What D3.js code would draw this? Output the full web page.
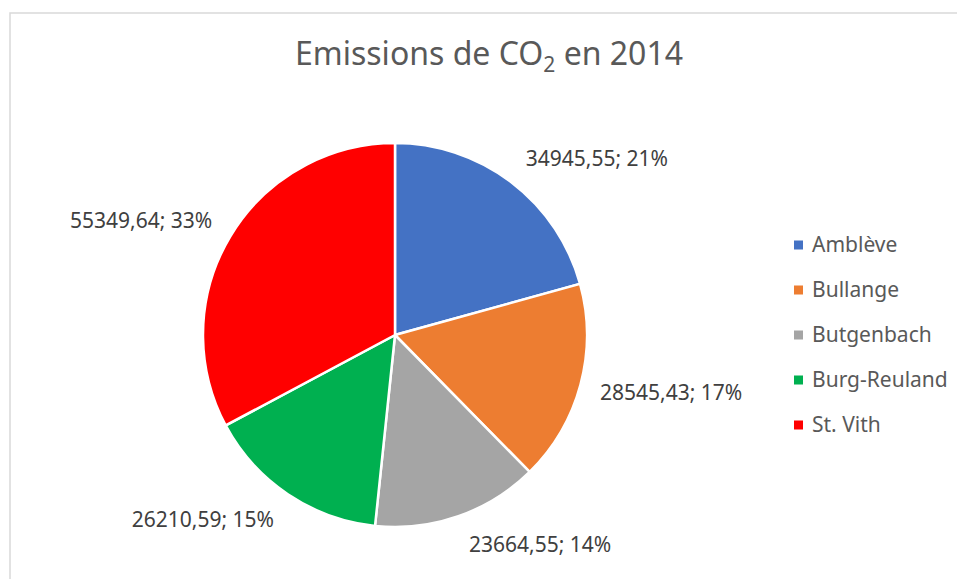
<!doctype html>
<html>
<head>
<meta charset="utf-8">
<title>Emissions de CO2 en 2014</title>
<script src="https://d3js.org/d3.v7.min.js"></script>
<style>
  body { margin: 0; background: #fff; }
  svg { display: block; font-family: "Noto Sans", sans-serif; }
</style>
</head>
<body>
<div id="chart"></div>
<script>
var communes = ["Amblève", "Bullange", "Butgenbach", "Burg-Reuland", "St. Vith"];
var emissions = [34945.55, 28545.43, 23664.55, 26210.59, 55349.64];
var percents = [21, 17, 14, 15, 33];   // as printed on the chart
var colours = ["#4472C4", "#ED7D31", "#A5A5A5", "#00B050", "#FF0000"];

var width = 957, height = 579;
var cx = 395, cy = 335, r = 192;

var svg = d3.select("#chart").append("svg")
    .attr("width", width)
    .attr("height", height);

// chart frame
svg.append("rect")
    .attr("x", 10).attr("y", 13)
    .attr("width", 960).attr("height", 600)
    .attr("fill", "none")
    .attr("stroke", "#d9d9d9")
    .attr("stroke-width", 1.5);

// title with subscript 2
var title = svg.append("text")
    .attr("x", 489).attr("y", 65)
    .attr("text-anchor", "middle")
    .attr("fill", "#595959")
    .style("font-size", "32px");
title.append("tspan").text("Emissions de CO");
title.append("tspan").attr("dy", 7).style("font-size", "21px").text("2");
title.append("tspan").attr("dy", -7).text(" en 2014");

var data = communes.map(function(c, i) {
  return {name: c, value: emissions[i], pct: percents[i], colour: colours[i]};
});

var pie = d3.pie().value(function(d) { return d.value; }).sort(null);
var arc = d3.arc().innerRadius(0).outerRadius(r);
var arcs = pie(data);

var g = svg.append("g").attr("transform", "translate(" + cx + "," + cy + ")");

g.selectAll("path")
  .data(arcs)
  .enter()
  .append("path")
    .attr("d", arc)
    .attr("fill", function(d) { return d.data.colour; })
    .attr("stroke", "#fff")
    .attr("stroke-width", 2.5);

// data labels outside the pie
var fmt = function(v) { return d3.format(".2f")(v).replace(".", ","); };
var mid = function(d) { return (d.startAngle + d.endAngle) / 2; };
g.selectAll("text.lbl")
  .data(arcs)
  .enter()
  .append("text")
    .attr("class", "lbl")
    .attr("x", function(d) {
      var a = mid(d);
      return (r + 14) * Math.sin(a) + (Math.sin(a) > 0 ? 6 : -6);
    })
    .attr("y", function(d) {
      var a = mid(d);
      return -(r + 14) * Math.cos(a) - 16 * Math.cos(a);
    })
    .attr("dy", "0.35em")
    .attr("text-anchor", function(d) { return Math.sin(mid(d)) > 0 ? "start" : "end"; })
    .attr("fill", "#404040")
    .style("font-size", "21px")
    .text(function(d) { return fmt(d.data.value) + "; " + d.data.pct + "%"; });

// legend
var legend = svg.append("g").attr("transform", "translate(794,245)");
var row = legend.selectAll("g")
  .data(data)
  .enter()
  .append("g")
    .attr("transform", function(d, i) { return "translate(0," + (i * 45) + ")"; });
row.append("rect")
    .attr("x", 0).attr("y", -4.5)
    .attr("width", 9).attr("height", 9)
    .attr("fill", function(d) { return d.colour; });
row.append("text")
    .attr("x", 18).attr("y", 0)
    .attr("dy", "0.35em")
    .attr("fill", "#595959")
    .style("font-size", "21px")
    .text(function(d) { return d.name; });
</script>
</body>
</html>
